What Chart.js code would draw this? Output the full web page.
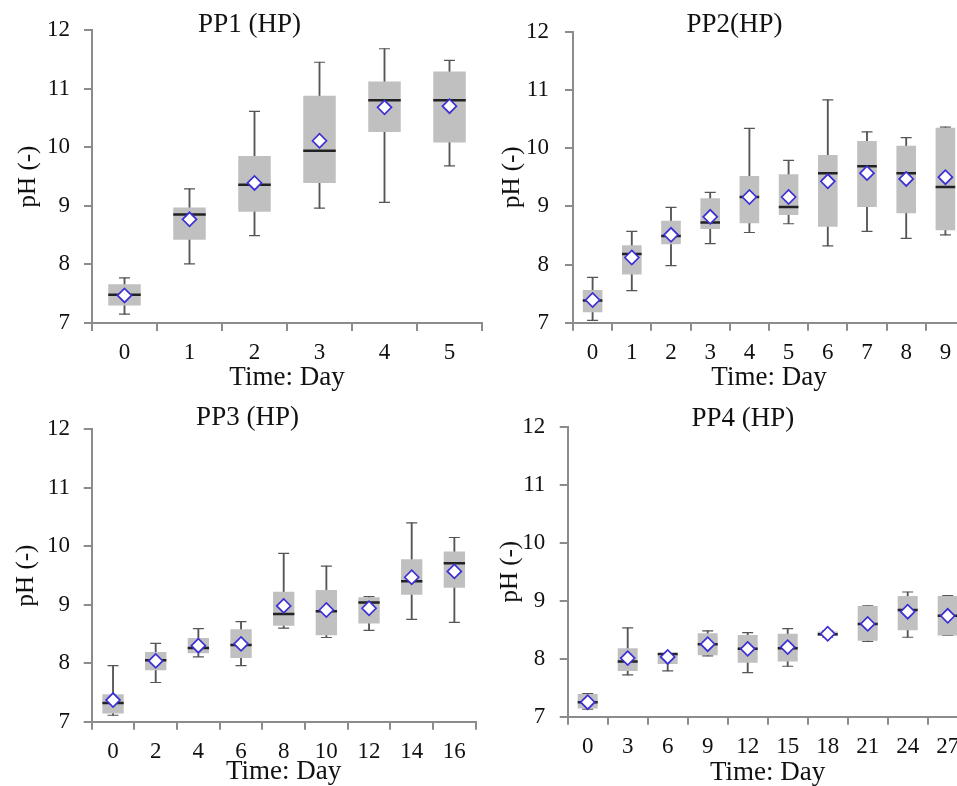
<!DOCTYPE html>
<html>
<head>
<meta charset="utf-8">
<script src="https://cdn.jsdelivr.net/npm/chart.js@4.4.1/dist/chart.umd.min.js"></script>
<style>
  html, body { margin: 0; padding: 0; background: #fff; overflow: hidden; width: 957px; height: 786px; }
  canvas { position: absolute; }
</style>
</head>
<body>
<canvas id="pp1" width="500" height="395" style="left:0px;top:0px"></canvas>
<canvas id="pp2" width="516" height="395" style="left:477px;top:0px"></canvas>
<canvas id="pp3" width="496" height="396" style="left:0px;top:390px"></canvas>
<canvas id="pp4" width="534" height="396" style="left:477px;top:390px"></canvas>
<script>
// PP1 (HP)
const pp1Days = ['0', '1', '2', '3', '4', '5'];
const pp1Min  = [7.15, 8.01, 8.49, 8.96, 9.06, 9.68];
const pp1Q1   = [7.30, 8.42, 8.90, 9.39, 10.26, 10.08];
const pp1Med  = [7.48, 8.85, 9.36, 9.94, 10.80, 10.80];
const pp1Q3   = [7.66, 8.97, 9.85, 10.88, 11.12, 11.29];
const pp1Max  = [7.77, 9.29, 10.61, 11.45, 11.68, 11.48];
const pp1Mean = [7.47, 8.77, 9.39, 10.11, 10.68, 10.70];

// PP2(HP)
const pp2Days = ['0', '1', '2', '3', '4', '5', '6', '7', '8', '9'];
const pp2Min  = [7.04, 7.55, 7.98, 8.36, 8.55, 8.70, 8.32, 8.57, 8.45, 8.51];
const pp2Q1   = [7.18, 7.83, 8.35, 8.61, 8.71, 8.85, 8.65, 8.99, 8.88, 8.59];
const pp2Med  = [7.38, 8.18, 8.49, 8.72, 9.16, 8.99, 9.57, 9.69, 9.57, 9.33];
const pp2Q3   = [7.56, 8.33, 8.75, 9.14, 9.52, 9.55, 9.88, 10.12, 10.04, 10.35];
const pp2Max  = [7.78, 8.57, 8.98, 9.24, 10.34, 9.79, 10.83, 10.28, 10.18, 10.36];
const pp2Mean = [7.39, 8.12, 8.51, 8.82, 9.16, 9.16, 9.43, 9.57, 9.47, 9.50];

// PP3 (HP)
const pp3Days = ['0', '2', '4', '6', '8', '10', '12', '14', '16'];
const pp3Min  = [7.11, 7.67, 8.11, 7.96, 8.60, 8.44, 8.56, 8.75, 8.70];
const pp3Q1   = [7.14, 7.88, 8.17, 8.09, 8.64, 8.48, 8.68, 9.17, 9.29];
const pp3Med  = [7.32, 8.05, 8.26, 8.31, 8.84, 8.89, 9.04, 9.40, 9.71];
const pp3Q3   = [7.47, 8.19, 8.43, 8.58, 9.22, 9.25, 9.13, 9.78, 9.91];
const pp3Max  = [7.96, 8.34, 8.59, 8.71, 9.88, 9.66, 9.14, 10.40, 10.15];
const pp3Mean = [7.37, 8.04, 8.30, 8.33, 8.98, 8.91, 8.94, 9.47, 9.57];

// PP4 (HP)
const pp4Days = ['0', '3', '6', '9', '12', '15', '18', '21', '24', '27'];
const pp4Min  = [7.13, 7.72, 7.79, 8.05, 7.76, 7.87, 8.37, 8.30, 8.37, 8.40];
const pp4Q1   = [7.14, 7.79, 7.91, 8.06, 7.93, 7.95, 8.39, 8.31, 8.49, 8.40];
const pp4Med  = [7.25, 7.95, 8.08, 8.25, 8.17, 8.18, 8.42, 8.60, 8.84, 8.74];
const pp4Q3   = [7.39, 8.18, 8.09, 8.44, 8.41, 8.43, 8.47, 8.91, 9.08, 9.08];
const pp4Max  = [7.40, 8.53, 8.09, 8.48, 8.45, 8.52, 8.48, 8.91, 9.15, 9.09];
const pp4Mean = [7.25, 8.01, 8.03, 8.25, 8.17, 8.20, 8.43, 8.60, 8.81, 8.74];

Chart.defaults.font.family = "'Liberation Serif', 'Times New Roman', serif";
Chart.defaults.color = '#111';

const axisGrey = '#8c8c8c';

function pairs(a, b) {
  return a.map((v, i) => [v, b[i]]);
}

function boxChart(id, title, days, mins, q1s, meds, q3s, maxs, means, lay) {
  const dots = { type: 'line', showLine: false, fill: false };
  return new Chart(document.getElementById(id), {
    type: 'bar',
    data: {
      labels: days,
      datasets: [
        { ...dots, data: means, pointStyle: 'rectRot', pointRadius: 7,
          pointBackgroundColor: '#fff', pointBorderColor: '#3b2fd6', pointBorderWidth: 1.7, order: 1 },
        { ...dots, data: meds, pointStyle: 'line',
          pointRadius: (ctx) => ctx.chart.scales.x.width / days.length / 4,
          pointBorderColor: '#222', pointBorderWidth: 2.5, order: 2 },
        { data: pairs(q1s, q3s), backgroundColor: '#c0c0c0',
          barPercentage: 0.5, categoryPercentage: 1, grouped: false, order: 3 },
        { ...dots, data: maxs, pointStyle: 'line', pointRadius: 5.5,
          pointBorderColor: '#555', pointBorderWidth: 1.2, order: 4 },
        { ...dots, data: mins, pointStyle: 'line', pointRadius: 5.5,
          pointBorderColor: '#555', pointBorderWidth: 1.2, order: 4 },
        { data: pairs(mins, maxs), backgroundColor: '#555',
          barThickness: 1.2, grouped: false, order: 5 },
      ],
    },
    options: {
      responsive: false,
      animation: false,
      events: [],
      layout: { padding: { left: lay.padL, right: lay.padR, top: 0, bottom: 0 } },
      plugins: {
        legend: { display: false },
        tooltip: { enabled: false },
        title: {
          display: true,
          text: title,
          color: '#111',
          font: { size: 27, weight: 'normal', lineHeight: 1.2 },
          padding: { top: lay.tTop, bottom: lay.tBot },
        },
      },
      scales: {
        x: {
          type: 'category',
          offset: true,
          grid: { offset: true, drawOnChartArea: false, drawTicks: true, tickLength: 8, color: axisGrey, lineWidth: 2 },
          border: { display: true, color: axisGrey, width: 2 },
          ticks: { color: '#111', font: { size: 23 }, padding: lay.xPad, maxRotation: 0, autoSkip: false },
          title: { display: true, text: 'Time: Day', color: '#111', font: { size: 27, lineHeight: 1.2 },
                   padding: { top: 0, bottom: lay.xtPad } },
          afterFit(scale) { scale.height = lay.xH; },
        },
        y: {
          min: 7,
          max: 12,
          ticks: { stepSize: 1, color: '#111', font: { size: 23 }, padding: lay.yPad },
          grid: { drawOnChartArea: false, drawTicks: true, tickLength: 8, color: axisGrey, lineWidth: 2 },
          border: { display: true, color: axisGrey, width: 2 },
          title: { display: true, text: 'pH (-)', color: '#111', font: { size: 25, lineHeight: 1.2 },
                   padding: { top: lay.ytPad, bottom: 0 } },
          afterFit(scale) { scale.width = lay.yW; },
        },
      },
    },
  });
}

boxChart('pp1', 'PP1 (HP)', pp1Days, pp1Min, pp1Q1, pp1Med, pp1Q3, pp1Max, pp1Mean,
  { padL: 17, padR: 18, tTop: 8.8, tBot: -11.2, yW: 75, yPad: 14, ytPad: -4, xH: 72, xPad: 8.2, xtPad: 1.3 });
boxChart('pp2', 'PP2(HP)', pp2Days, pp2Min, pp2Q1, pp2Med, pp2Q3, pp2Max, pp2Mean,
  { padL: 27, padR: 28, tTop: 8.8, tBot: -9.5, yW: 69, yPad: 16, ytPad: -7, xH: 72.3, xPad: 8.8, xtPad: 0.8 });
boxChart('pp3', 'PP3 (HP)', pp3Days, pp3Min, pp3Q1, pp3Med, pp3Q3, pp3Max, pp3Mean,
  { padL: 19.3, padR: 20.3, tTop: 12.1, tBot: -5.2, yW: 72.4, yPad: 13.7, ytPad: -7.6, xH: 64.3, xPad: 8.2, xtPad: -2.5 });
boxChart('pp4', 'PP4 (HP)', pp4Days, pp4Min, pp4Q1, pp4Med, pp4Q3, pp4Max, pp4Mean,
  { padL: 40.9, padR: 43.3, tTop: 12.5, tBot: -8.2, yW: 49.8, yPad: 14.4, ytPad: -22.6, xH: 69.3, xPad: 8.8, xtPad: -3.5 });
</script>
</body>
</html>
